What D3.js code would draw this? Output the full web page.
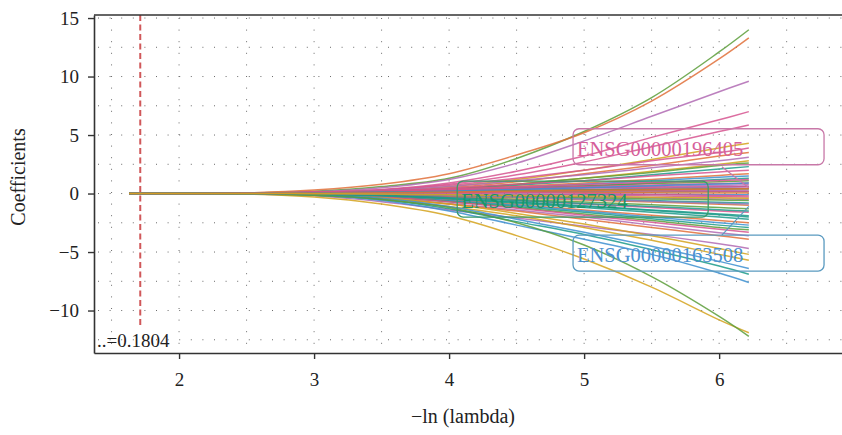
<!DOCTYPE html>
<html>
<head>
<meta charset="utf-8">
<script src="https://cdn.jsdelivr.net/npm/d3@7"></script>
<style>
  html, body { margin: 0; padding: 0; background: #fff; }
  svg { display: block; }
  svg text { font-family: "Liberation Serif", "Times New Roman", "DejaVu Serif", serif; }
</style>
</head>
<body>
<svg id="chart" width="842" height="435"></svg>
<script>
// -ln(lambda) values at which each coefficient is sampled
const logLambda = [1.63, 2.5, 3.0, 3.5, 4.0, 4.5, 5.0, 5.5, 6.0, 6.22];

// Coefficient paths (one row per gene), values at the logLambda points
const paths = [
  [0, 0.05, 0.2, 0.6, 1.3, 3.0, 5.3, 8.2, 12.1, 14.0],
  [0, 0.06, 0.3, 0.8, 1.7, 3.3, 5.2, 7.9, 11.5, 13.3],
  [0, 0.02, 0.15, 0.5, 1.2, 2.6, 4.5, 6.6, 8.7, 9.6],
  [0, 0.02, 0.1, 0.35, 0.9, 1.9, 3.2, 4.8, 6.3, 7.0],
  [0, 0.02, 0.1, 0.3, 0.8, 1.6, 2.7, 4.0, 5.3, 5.85],
  [0, 0.01, 0.08, 0.25, 0.6, 1.2, 2.0, 2.9, 3.9, 4.3],
  [0, 0.02, 0.1, 0.3, 0.7, 1.3, 2.0, 2.8, 3.5, 3.9],
  [0, 0.01, 0.06, 0.2, 0.5, 1.0, 1.7, 2.4, 3.2, 3.5],
  [0, 0.02, 0.08, 0.25, 0.6, 1.1, 1.6, 2.2, 2.8, 3.1],
  [0, 0.01, 0.05, 0.15, 0.4, 0.8, 1.3, 1.9, 2.5, 2.8],
  [0, 0.01, 0.05, 0.15, 0.4, 0.8, 1.3, 1.8, 2.4, 2.6],
  [0, 0.01, 0.04, 0.12, 0.35, 0.7, 1.1, 1.6, 2.1, 2.3],
  [0, 0.02, 0.08, 0.2, 0.45, 0.8, 1.1, 1.5, 1.85, 2.0],
  [0, 0.01, 0.05, 0.15, 0.35, 0.6, 0.9, 1.2, 1.55, 1.7],
  [0, 0.01, 0.03, 0.1, 0.25, 0.5, 0.8, 1.1, 1.4, 1.5],
  [0, 0.01, 0.03, 0.08, 0.2, 0.4, 0.65, 0.9, 1.2, 1.3],
  [0, 0.01, 0.03, 0.1, 0.25, 0.45, 0.65, 0.85, 1.0, 1.1],
  [0, 0.02, 0.06, 0.15, 0.3, 0.45, 0.6, 0.72, 0.85, 0.9],
  [0, 0.01, 0.04, 0.1, 0.2, 0.35, 0.5, 0.6, 0.7, 0.75],
  [0, 0.01, 0.03, 0.08, 0.15, 0.25, 0.35, 0.45, 0.55, 0.6],
  [0, 0.02, 0.05, 0.1, 0.18, 0.25, 0.32, 0.38, 0.43, 0.45],
  [0, 0.01, 0.03, 0.06, 0.1, 0.15, 0.2, 0.25, 0.28, 0.3],
  [0, 0.02, 0.05, 0.08, 0.1, 0.12, 0.13, 0.14, 0.15, 0.15],
  [0, 0.03, 0.06, 0.1, 0.12, 0.1, 0.08, 0.06, 0.05, 0.05],
  [0, 0.01, 0.0, -0.02, -0.04, -0.05, -0.07, -0.08, -0.1, -0.1],
  [0, 0.02, 0.04, 0.05, 0.02, -0.05, -0.12, -0.2, -0.27, -0.3],
  [0, -0.01, -0.03, -0.07, -0.12, -0.2, -0.28, -0.37, -0.46, -0.5],
  [0, -0.01, -0.03, -0.08, -0.18, -0.3, -0.45, -0.6, -0.74, -0.8],
  [0, -0.01, -0.04, -0.1, -0.22, -0.38, -0.55, -0.73, -0.92, -1.0],
  [0, -0.01, -0.05, -0.13, -0.3, -0.5, -0.72, -0.95, -1.2, -1.3],
  [0, 0.01, 0.0, -0.1, -0.3, -0.6, -0.9, -1.2, -1.5, -1.6],
  [0, -0.01, -0.06, -0.18, -0.42, -0.72, -1.05, -1.4, -1.75, -1.9],
  [0, -0.02, -0.08, -0.22, -0.5, -0.85, -1.2, -1.6, -2.0, -2.2],
  [0, -0.01, -0.08, -0.25, -0.55, -0.95, -1.4, -1.85, -2.3, -2.5],
  [0, -0.02, -0.1, -0.28, -0.6, -1.0, -1.5, -2.0, -2.5, -2.7],
  [0, -0.02, -0.1, -0.3, -0.65, -1.1, -1.6, -2.15, -2.7, -2.9],
  [0, -0.02, -0.1, -0.32, -0.7, -1.2, -1.75, -2.3, -2.9, -3.1],
  [0, -0.01, -0.08, -0.3, -0.7, -1.25, -1.85, -2.45, -3.05, -3.3],
  [0, -0.02, -0.12, -0.38, -0.85, -1.4, -2.0, -2.7, -3.35, -3.6],
  [0, -0.02, -0.12, -0.4, -0.9, -1.5, -2.2, -2.9, -3.6, -3.9],
  [0, -0.02, -0.2, -0.7, -1.4, -2.1, -2.8, -3.5, -4.3, -4.7],
  [0, -0.01, -0.1, -0.35, -0.9, -1.7, -2.6, -3.6, -4.7, -5.2],
  [0, -0.02, -0.15, -0.5, -1.1, -1.9, -2.9, -4.0, -5.2, -5.7],
  [0, -0.02, -0.1, -0.4, -1.1, -2.2, -3.3, -4.5, -5.8, -6.4],
  [0, -0.02, -0.12, -0.5, -1.3, -2.4, -3.5, -4.8, -6.2, -6.9],
  [0, -0.02, -0.15, -0.6, -1.5, -2.7, -3.9, -5.2, -6.8, -7.6],
  [0, -0.05, -0.3, -0.9, -1.9, -3.6, -5.6, -8.0, -10.8, -11.9],
  [0, -0.03, -0.15, -0.5, -1.2, -2.5, -4.4, -7.1, -10.5, -12.2],
  [0, 0.03, 0.08, 0.18, 0.3, 0.4, 0.48, 0.54, 0.58, 0.6],
  [0, 0.02, 0.06, 0.12, 0.15, 0.1, 0.02, -0.08, -0.16, -0.2],
  [0, 0.02, 0.07, 0.15, 0.22, 0.25, 0.24, 0.22, 0.2, 0.2],
  [0, 0.02, 0.08, 0.2, 0.38, 0.58, 0.78, 0.95, 1.12, 1.2],
  [0, 0.01, 0.04, 0.1, 0.18, 0.25, 0.3, 0.35, 0.38, 0.4],
  [0, -0.01, -0.05, -0.15, -0.35, -0.6, -0.85, -1.1, -1.38, -1.5],
  [0, -0.01, -0.06, -0.2, -0.45, -0.75, -1.1, -1.45, -1.82, -2.0],
  [0, 0.0, -0.02, -0.06, -0.14, -0.25, -0.36, -0.46, -0.56, -0.6],
  [0, 0.01, 0.0, -0.05, -0.15, -0.3, -0.48, -0.66, -0.82, -0.9],
  [0, 0.01, 0.04, 0.1, 0.2, 0.35, 0.5, 0.67, 0.82, 0.9],
  [0, 0.01, 0.03, 0.07, 0.13, 0.2, 0.26, 0.32, 0.37, 0.4],
  [0, 0.0, -0.01, -0.04, -0.1, -0.17, -0.24, -0.31, -0.37, -0.4]
];

// Colour key for each path (same order as paths)
const pathColours = [
  "green", "orange", "purple", "pink", "pink", "gold", "pink", "orange", "purple", "gold",
  "green", "teal", "pink", "orange", "blue", "teal", "green", "pink", "purple", "blue",
  "pink", "lavender", "green", "orange", "blue", "pink", "purple", "teal", "orange", "green",
  "pink", "teal", "teal", "orange", "blue", "teal", "green", "pink", "purple", "orange",
  "purple", "gold", "gold", "blue", "teal", "blue", "gold", "green",
  "pink", "pink", "pink", "pink", "green", "teal", "teal", "green", "lavender", "blue", "orange", "gold"
];

const palette = {
  green: "#5c9e3a", orange: "#e0703a", purple: "#b06ab3", pink: "#d6548f",
  gold: "#d4a21c", teal: "#1b9a8a", blue: "#3c8fd0", lavender: "#8a7cc0"
};

const xTicks = [2, 3, 4, 5, 6];
const yTicks = [-10, -5, 0, 5, 10, 15];
const xGrid = [1.5, 2, 2.5, 3, 3.5, 4, 4.5, 5, 5.5, 6, 6.5];
const yGrid = [-12.5, -10, -7.5, -5, -2.5, 0, 2.5, 5, 7.5, 10, 12.5, 15];

// Optimal lambda from cross-validation
const lambdaMin = 0.1804;

// Highlighted genes: name, label box anchor (logLambda, coefficient), colours, leader target
const geneLabels = [
  { gene: "ENSG00000196405", x: 4.918, y: 4.0, colour: "#d6609a", border: "#c878a8", target: [6.22, 0.5] },
  { gene: "ENSG00000127324", x: 4.06, y: -0.47, colour: "#17966a", border: "#3a9a6a", target: null },
  { gene: "ENSG00000163508", x: 4.918, y: -5.09, colour: "#4a90d0", border: "#5a9ac0", target: [6.22, -1.1] }
];

const svg = d3.select("#chart");
const W = 842, H = 435;
const margin = { left: 94, top: 15, right: 0, bottom: 82 };
const serif = "'Liberation Serif', 'Times New Roman', 'DejaVu Serif', serif";

const x = d3.scaleLinear().domain([1.37, 6.91]).range([margin.left, W - margin.right]);
const y = d3.scaleLinear().domain([-13.63, 15.26]).range([H - margin.bottom, margin.top]);

const plotTop = y.range()[1], plotBottom = y.range()[0];
const plotLeft = x.range()[0], plotRight = x.range()[1];

// Dotted grid
const grid = svg.append("g").attr("stroke", "#6a6a6a").attr("stroke-width", 1)
  .attr("stroke-dasharray", "1,10.6").attr("fill", "none");
grid.selectAll("line.v").data(xGrid).join("line").attr("class", "v")
  .attr("x1", d => x(d)).attr("x2", d => x(d))
  .attr("y1", plotTop + 3).attr("y2", plotBottom);
grid.selectAll("line.h").data(yGrid).join("line").attr("class", "h")
  .attr("y1", d => y(d)).attr("y2", d => y(d))
  .attr("x1", plotLeft + 4).attr("x2", plotRight);

// Coefficient paths
const line = d3.line()
  .x((d, i) => x(logLambda[i]))
  .y(d => y(d))
  .curve(d3.curveCatmullRom.alpha(0.5));

svg.append("g").attr("fill", "none").attr("stroke-width", 1.5).attr("stroke-opacity", 0.85)
  .selectAll("path").data(paths).join("path")
  .attr("stroke", (d, i) => palette[pathColours[i]])
  .attr("d", line);

// Vertical marker at the chosen lambda
svg.append("line")
  .attr("x1", x(-Math.log(lambdaMin))).attr("x2", x(-Math.log(lambdaMin)))
  .attr("y1", plotTop).attr("y2", y(-11.3))
  .attr("stroke", "#d0585a").attr("stroke-width", 2)
  .attr("stroke-dasharray", "6,3.5");

// Gene label boxes with leader lines
const labelG = svg.append("g");
geneLabels.forEach(lab => {
  const bx = x(lab.x), by = y(lab.y);
  const bw = 251, bh = 36;
  if (lab.target) {
    const tx = x(lab.target[0]), ty = y(lab.target[1]);
    const sy = ty > by ? by + bh / 2 + 2 : by - bh / 2;
    labelG.append("line")
      .attr("x1", tx - 27).attr("y1", sy)
      .attr("x2", tx).attr("y2", ty)
      .attr("stroke", lab.border).attr("stroke-width", 1.2);
  }
  labelG.append("rect")
    .attr("x", bx).attr("y", by - bh / 2)
    .attr("width", bw).attr("height", bh)
    .attr("rx", 6).attr("ry", 6)
    .attr("fill", "none").attr("stroke", lab.border).attr("stroke-width", 1.3);
  labelG.append("text")
    .attr("x", bx + 4).attr("y", by + 9)
    .style("font-family", serif)
    .attr("fill", lab.colour).attr("font-size", 20.5)
    .text(lab.gene);
});

// Axes
const axisColour = "#333";
const yAxis = svg.append("g").attr("transform", `translate(${plotLeft},0)`)
  .call(d3.axisLeft(y).tickValues(yTicks).tickSize(6).tickSizeOuter(0).tickPadding(9));
const xAxis = svg.append("g").attr("transform", `translate(0,${plotBottom})`)
  .call(d3.axisBottom(x).tickValues(xTicks).tickSize(6).tickSizeOuter(0).tickPadding(14).tickFormat(d3.format("d")));

[xAxis, yAxis].forEach(a => {
  a.attr("font-family", null);
  a.select(".domain").attr("stroke", axisColour).attr("stroke-width", 1.6);
  a.selectAll(".tick line").attr("stroke", axisColour).attr("stroke-width", 1.4);
  a.selectAll(".tick text").attr("fill", "#222")
    .style("font-family", serif).style("font-size", "19px");
});

// Top frame edge
svg.append("line").attr("x1", plotLeft).attr("x2", plotRight)
  .attr("y1", plotTop).attr("y2", plotTop)
  .attr("stroke", axisColour).attr("stroke-width", 1.6);

// Lambda annotation
svg.append("text").attr("x", plotLeft + 3).attr("y", plotBottom - 6)
  .style("font-family", serif).style("font-size", "19px").attr("fill", "#222")
  .text("..=" + lambdaMin);

// Axis titles
svg.append("text")
  .attr("transform", `translate(25,${(plotTop + plotBottom) / 2 - 7}) rotate(-90)`)
  .attr("text-anchor", "middle").style("font-family", serif).style("font-size", "20px").attr("fill", "#222")
  .text("Coefficients");
svg.append("text")
  .attr("x", 463).attr("y", 423)
  .attr("text-anchor", "middle").style("font-family", serif).style("font-size", "20px").attr("fill", "#222")
  .text("\u2212ln (lambda)");
</script>
</body>
</html>
